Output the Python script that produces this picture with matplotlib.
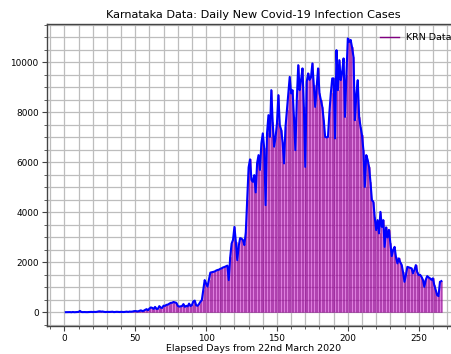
import numpy as np
import matplotlib
matplotlib.use('Agg')
import matplotlib.pyplot as plt
from matplotlib.lines import Line2D
from matplotlib.ticker import AutoMinorLocator, MultipleLocator

# daily new cases in Karnataka, day 1 = 22nd March 2020
cases_1_50 = [6, 7, 4, 10, 3, 14, 5, 8, 12, 16,
              55, 13, 9, 12, 10, 8, 11, 15, 18, 12,
              19, 14, 21, 35, 41, 28, 33, 19, 12, 18,
              15, 16, 22, 24, 10, 17, 21, 15, 13, 20,
              18, 12, 22, 28, 16, 30, 25, 30, 45, 52]
cases_51_100 = [42, 36, 61, 79, 51, 63, 99, 127, 84, 149,
                196, 178, 138, 216, 135, 141, 248, 187, 178, 267,
                257, 299, 308, 341, 378, 383, 415, 398, 380, 260,
                230, 240, 250, 330, 220, 260, 240, 350, 250, 290,
                440, 470, 280, 260, 330, 420, 490, 900, 1290, 1150]
cases_101_150 = [1030, 1300, 1590, 1602, 1618, 1632, 1669, 1694, 1705, 1741,
                 1763, 1798, 1815, 1843, 1869, 1290, 2200, 2750, 2900, 3420,
                 2820, 2090, 2650, 2970, 2950, 2890, 2690, 3200, 4500, 5800,
                 6120, 5300, 5220, 5490, 4800, 5970, 6290, 5700, 6760, 7160,
                 6570, 4290, 7170, 7890, 7020, 8890, 7600, 6630, 7000, 7560]
cases_151_200 = [8690, 7490, 7300, 6800, 5960, 7400, 8090, 8800, 9420, 8760,
                 8890, 7800, 6490, 8500, 9890, 8890, 9300, 9760, 8200, 5820,
                 9220, 9560, 9300, 9400, 9960, 9100, 8220, 9000, 9760, 8760,
                 8500, 8220, 7700, 7020, 7000, 7020, 8000, 8760, 9360, 9360,
                 6960, 10490, 8890, 10090, 9290, 9600, 10160, 7820, 9500, 10960]
cases_201_266 = [10820, 10900, 10600, 10220, 7690, 8700, 9290, 7800, 7420, 7090,
                 6490, 5020, 6290, 6100, 5820, 5200, 4490, 4420, 3800, 3290,
                 3690, 3160, 4020, 3420, 3690, 2620, 3400, 3000, 3300, 2760,
                 2250, 2500, 2620, 2200, 1960, 2160, 2000, 1900, 1600, 1220,
                 1500, 1820, 1800, 1780, 1760, 1560, 1700, 1890, 1600, 1490,
                 1500, 1420, 1300, 1020, 1300, 1450, 1400, 1360, 1300, 1360,
                 1090, 900, 690, 650, 1220, 1250]

cases = np.array(cases_1_50 + cases_51_100 + cases_101_150 + cases_151_200 + cases_201_266)
days = np.arange(1, len(cases) + 1)

fig = plt.figure(figsize=(4.52, 3.54), dpi=100)
ax = fig.add_axes([0.104, 0.079, 0.914, 0.852])

ax.bar(days, cases, width=1.0, color='m', alpha=0.5, edgecolor='purple', linewidth=0.45)
ax.plot(days, cases, color='blue', linewidth=1.5)

ax.xaxis.set_major_locator(MultipleLocator(50))
ax.xaxis.set_minor_locator(AutoMinorLocator(5))
ax.yaxis.set_major_locator(MultipleLocator(2000))
ax.yaxis.set_minor_locator(AutoMinorLocator(4))
ax.grid(which='both', color='#bdbdbd', linewidth=0.9)
ax.set_axisbelow(True)
ax.set_xlim(-12.25, 279.25)
ax.set_ylim(-548, 11520)

for s in ax.spines.values():
    s.set_color('#444444')
    s.set_linewidth(1.0)
ax.tick_params(which='major', labelsize=6.4, length=3.5, pad=2.5, color='#444444')
ax.tick_params(which='minor', length=2, color='#444444')

ax.set_title('Karnataka Data: Daily New Covid-19 Infection Cases', fontsize=8.1, pad=4.5)
ax.set_xlabel('Elapsed Days from 22nd March 2020', fontsize=6.8, labelpad=0.5)

handle = Line2D([], [], color='purple', linewidth=1.0)
ax.legend([handle], ['KRN Data'], loc='upper right', frameon=False, fontsize=6.8)

fig.savefig('out.png', dpi=100)
